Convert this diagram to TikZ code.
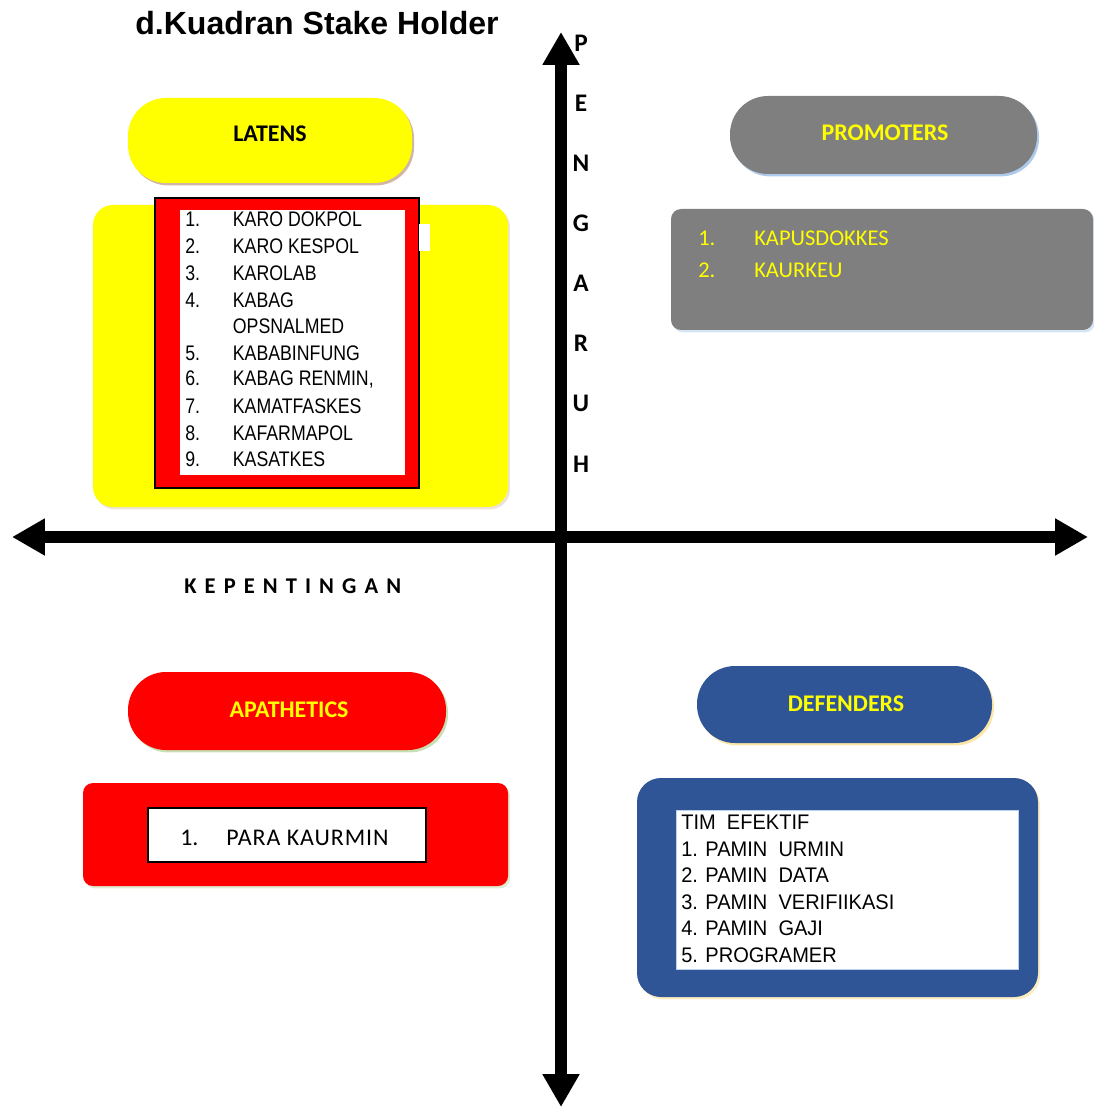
\documentclass[tikz,border=0pt]{standalone}
\usepackage{fontspec}
\setmainfont{Carlito}
\newfontfamily\arialfont{Liberation Sans}
\newfontfamily\listfont{Liberation Sans}[FakeStretch=0.84]
\newfontfamily\deffont{Liberation Sans}[FakeStretch=0.95]
\usepackage{tikz}
\usetikzlibrary{positioning}
\usetikzlibrary{fit}
\usetikzlibrary{arrows.meta}
\usetikzlibrary{shadows}

\definecolor{kuning}{RGB}{255,255,0}
\definecolor{abu}{RGB}{127,127,127}
\definecolor{merah}{RGB}{255,0,0}
\definecolor{biru}{RGB}{47,85,151}
\definecolor{glowcoklat}{RGB}{190,150,130}
\definecolor{glowbiru}{RGB}{140,180,225}
\definecolor{glowhijau}{RGB}{175,210,150}
\definecolor{glowkuning}{RGB}{250,220,130}

\tikzset{
	pill/.style={rounded corners=0.95cm},
	panel/.style={rounded corners=0.3cm},
	judulpill/.style={font=\fontsize{17}{20}\selectfont\bfseries},
	glow/.style={drop shadow={fill=#1, opacity=0.7,
		shadow xshift=0.05cm, shadow yshift=-0.06cm}},
	axis/.style={line width=0.3cm,
		{Triangle[width=0.87cm,length=0.82cm]}-{Triangle[width=0.87cm,length=0.82cm]}},
	hurufsumbu/.style={font=\fontsize{18}{20}\selectfont\bfseries},
	latenslist/.style={anchor=base west, font=\listfont\fontsize{15}{18}\selectfont},
	deflist/.style={anchor=base west, font=\deffont\fontsize{15}{18}\selectfont}
}

\begin{document}
\begin{tikzpicture}[x=0.025cm, y=-0.025cm,
		every node/.style={inner sep=0pt}]
	\useasboundingbox (0,0) rectangle (1093,1108);

	\node [font=\arialfont\bfseries\fontsize{22.8}{26}\selectfont]
		(judul) at (317,23) {d.Kuadran Stake Holder};

	% sumbu
	\coordinate (kiri) at (12,537);
	\coordinate (kanan) at (1088,537);
	\coordinate (atas) at (561,32);
	\coordinate (bawah) at (561,1107);
	\draw [axis] (kiri) -- (kanan);
	\draw [axis] (atas) -- (bawah);

	\foreach \h [count=\i] in {P,E,N,G,A,R,U,H}
		\node [hurufsumbu] (pengaruh\i) at (581,{43+60.14*(\i-1)}) {\h};
	\node [anchor=base west, font=\fontsize{16}{19}\selectfont\bfseries]
		(kepentingan) at (184,593) {\addfontfeature{LetterSpace=36}KEPENTINGAN};

	% latens
	\node [pill, fill=kuning, glow=glowcoklat,
			fit={(128,98) (412,183)}] (latens) {};
	\node [judulpill] (latenslabel) at (270,134) {LATENS};
	\node [panel, rounded corners=0.5cm, fill=kuning, glow=glowcoklat!40,
			fit={(93,205) (508,507)}] (latensbox) {};
	\node [draw=black, line width=1pt, fill=merah,
			fit={(155,198) (419,488)}] (latensmerah) {};
	\node [fill=white, fit={(180,210) (405,475)}] (latensputih) {};
	\node [fill=white, fit={(419,224) (430,251)}] (latenssisa) {};
	\foreach \num/\txt/\yy [count=\i] in {1./KARO DOKPOL/227, 2./KARO KESPOL/254,
			3./KAROLAB/281, 4./KABAG/308, /OPSNALMED/334, 5./KABABINFUNG/360,
			{6./KABAG RENMIN,/386}, 7./KAMATFASKES/413, 8./KAFARMAPOL/440, 9./KASATKES/466}
		\node [latenslist] (latens\i) at (185,\yy) {\makebox[1.19cm][l]{\num}\txt};

	% promoters
	\node [pill, fill=abu, glow=glowbiru,
			fit={(730,96) (1037,174)}] (promoters) {};
	\node [judulpill, text=kuning] (promoterslabel) at (885,133) {PROMOTERS};
	\node [panel, rounded corners=0.25cm, fill=abu, glow=glowbiru!50,
			fit={(671,209) (1093,330)}] (promotersbox) {};
	\node [anchor=base west, text=kuning, font=\fontsize{16}{19}\selectfont]
		(promoters1) at (698,246) {\makebox[1.4cm][l]{1.}KAPUSDOKKES};
	\node [anchor=base west, text=kuning, font=\fontsize{16}{19}\selectfont]
		(promoters2) at (698,278) {\makebox[1.4cm][l]{2.}KAURKEU};

	% apathetics
	\node [pill, fill=merah, glow=glowhijau,
			fit={(128,672) (446,750)}] (apathetics) {};
	\node [judulpill, text=kuning] (apatheticslabel) at (289,710) {APATHETICS};
	\node [panel, rounded corners=0.25cm, fill=merah, glow=glowhijau!60,
			fit={(83,783) (508,886)}] (apatheticsbox) {};
	\node [draw=black, line width=1pt, fill=white,
			fit={(148,808) (426,862)}] (apatheticsputih) {};
	\node [anchor=base west, font=\fontsize{17}{20}\selectfont]
		(apathetics1) at (180,845) {\makebox[1.15cm][l]{1.}\addfontfeature{LetterSpace=4}PARA KAURMIN};

	% defenders
	\node [pill, fill=biru, glow=glowkuning,
			fit={(697,666) (992,743)}] (defenders) {};
	\node [judulpill, text=kuning] (defenderslabel) at (846,704) {DEFENDERS};
	\node [panel, rounded corners=0.6cm, fill=biru, glow=glowkuning!70,
			fit={(637,778) (1038,997)}] (defendersbox) {};
	\node [draw=glowbiru!60, line width=0.6pt, fill=white,
			fit={(676,810) (1018,969)}] (defendersputih) {};
	\foreach \txt/\yy [count=\i] in {TIM\ \ EFEKTIF/829, 1. PAMIN\ \ URMIN/856,
			2. PAMIN\ \ DATA/882, 3. PAMIN\ \ VERIFIIKASI/909,
			4. PAMIN\ \ GAJI/935, 5. PROGRAMER/962}
		\node [deflist] (defenders\i) at (681,\yy) {\txt};
\end{tikzpicture}
\end{document}
